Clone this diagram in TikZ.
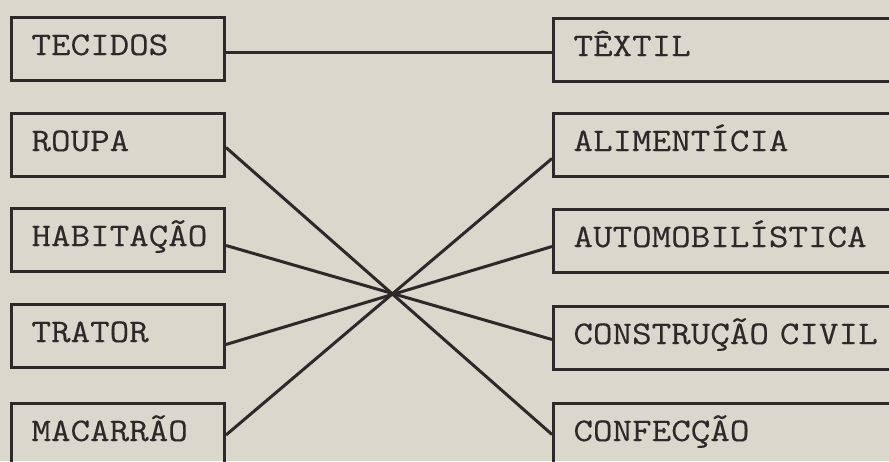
\documentclass[tikz,border=0pt]{standalone}
\usepackage{fontspec}
\setmonofont[FakeStretch=1.15,FakeBold=0.3]{Latin Modern Mono}
\definecolor{paper}{HTML}{DAD7CD}
\definecolor{ink}{HTML}{2B2A28}
\begin{document}
\begin{tikzpicture}[x=1pt,y=-1pt,
  box/.style={draw=ink, line width=3pt, anchor=north west,
    minimum height=63pt, inner xsep=20pt, inner ysep=0pt,
    text height=20pt, text depth=8pt, align=left,
    font=\ttfamily\fontsize{33}{33}\selectfont, text=ink},
  leftbox/.style={box, text width=173pt},
  rightbox/.style={box, text width=330pt},
  link/.style={draw=ink, line width=3pt}]
  % page
  \fill[paper] (0,0) rectangle (889,461);
  \useasboundingbox (0,0) rectangle (889,461);
  \clip (0,0) rectangle (889,461);

  % products (left column)
  \node[leftbox] (tecidos)   at (10,16)  {TECIDOS};
  \node[leftbox] (roupa)     at (10,112) {ROUPA};
  \node[leftbox] (habitacao) at (10,207) {HABITAÇÃO};
  \node[leftbox] (trator)    at (10,303) {TRATOR};
  \node[leftbox] (macarrao)  at (10,402) {MACARRÃO};

  % industries (right column)
  \node[rightbox] (textil)      at (552,17)  {TÊXTIL};
  \node[rightbox] (alimenticia) at (552,112) {ALIMENTÍCIA};
  \node[rightbox] (automob)     at (552,208) {AUTOMOBILÍSTICA};
  \node[rightbox] (construcao)  at (552,305) {CONSTRUÇÃO CIVIL};
  \node[rightbox] (confeccao)   at (552,402) {CONFECÇÃO};

  % connections
  \draw[link] ([yshift=-3.5pt]tecidos.east) -- ([yshift=-3.5pt]tecidos.east -| textil.west);
  \draw[link] ([yshift=-2.5pt]roupa.east) -- ([yshift=0.5pt]confeccao.west);
  \draw[link] ([yshift=-5.5pt]habitacao.east) -- ([yshift=-1.5pt]construcao.west);
  \draw[link] ([yshift=-8.5pt]trator.east) -- ([yshift=-5.5pt]automob.west);
  \draw[link] (macarrao.east) -- ([yshift=-13.5pt]alimenticia.west);
\end{tikzpicture}
\end{document}
